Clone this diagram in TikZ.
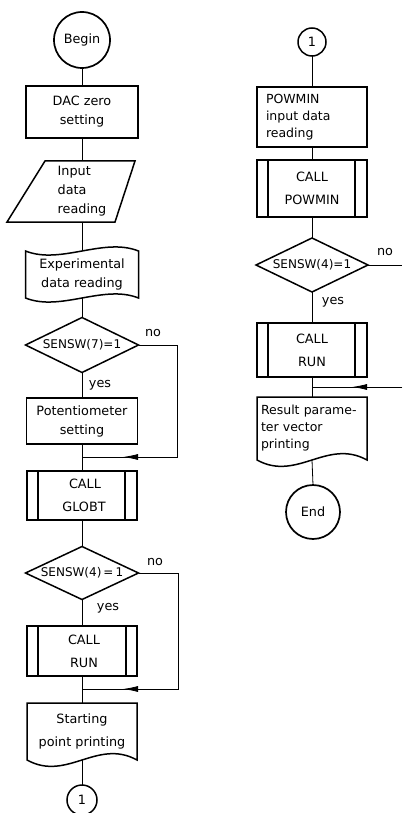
\documentclass[tikz,border=0pt]{standalone}
\usepackage{fontspec}
\setmainfont{DejaVu Sans}
\usetikzlibrary{arrows.meta}
\begin{document}
\begin{tikzpicture}[x=1pt,y=-1pt,
  every node/.style={inner sep=0pt, outer sep=0pt},
  fa/.style={font=\fontsize{12.8pt}{19pt}\selectfont},
  fb/.style={font=\fontsize{12.8pt}{23pt}\selectfont},
  fc/.style={font=\fontsize{12.5pt}{17pt}\selectfont},
  fd/.style={font=\fontsize{12pt}{19pt}\selectfont},
  shp/.style={line width=1.5pt, line join=miter},
  conn/.style={line width=0.8pt},
  term/.style={draw, circle, line width=1.7pt, fa},
  procbox/.style={draw, rectangle, line width=1.5pt, align=center, fa},
  txt/.style={rectangle, align=center, fa},
  lbl/.style={fa},
  tipped/.style={conn, -{Latex[length=15pt,width=6pt]}}
]
\useasboundingbox (0,0) rectangle (402,813);

% ---------- left column ----------
\node[term, minimum size=56pt] (begin) at (82,40) {Begin};
\node[procbox, minimum width=112pt, minimum height=52pt] (dac) at (82,112) {DAC zero\\setting};
\node[txt, align=left, minimum width=108pt, minimum height=61pt] (inp) at (82,191.5) {Input\\data\\reading};
\draw[shp] (45,161) -- (135,161) -- (115,222) -- (7,222) -- cycle;
\node[txt, minimum width=113pt, minimum height=47pt] (exp) at (82,274.5) {Experimental\\data reading};
\draw[shp] (exp.north west) .. controls +(35,14) and +(-35,-14) .. (exp.north east)
  -- (exp.south east) .. controls +(-35,-14) and +(35,14) .. (exp.south west) -- cycle;
\node[txt, fd, minimum width=113pt, minimum height=55pt] (d1) at (82,345) {SENSW(7)=1};
\draw[shp] (d1.north) -- (d1.east) -- (d1.south) -- (d1.west) -- cycle;
\node[lbl] (no1) at (153,333) {no};
\node[lbl] (yes1) at (100,385) {yes};
\node[procbox, minimum width=111pt, minimum height=46pt] (pot) at (82,421) {Potentiometer\\setting};
\node[procbox, fb, minimum width=110pt, minimum height=49pt] (globt) at (82,495.5) {\hspace*{6pt}CALL\\\hspace*{4pt}GLOBT};
\draw[shp] ([xshift=11pt]globt.north west) -- ([xshift=11pt]globt.south west);
\draw[shp] ([xshift=-12pt]globt.north east) -- ([xshift=-12pt]globt.south east);
\node[txt, fd, minimum width=113pt, minimum height=53pt] (d2) at (82,573) {SENSW(4)\,=\,1};
\draw[shp] (d2.north) -- (d2.east) -- (d2.south) -- (d2.west) -- cycle;
\node[lbl] (no2) at (155,562) {no};
\node[lbl] (yes2) at (108,608) {yes};
\node[procbox, fb, minimum width=110pt, minimum height=50pt] (run1) at (82,651) {\hspace*{4pt}CALL\\\hspace*{4pt}RUN};
\draw[shp] ([xshift=11pt]run1.north west) -- ([xshift=11pt]run1.south west);
\draw[shp] ([xshift=-11pt]run1.north east) -- ([xshift=-11pt]run1.south east);
\node[txt, fb, minimum width=110pt, minimum height=57pt] (sp) at (82,731.5) {Starting\\point printing};
\draw[shp] (sp.south west) -- (sp.north west) -- (sp.north east) -- (sp.south east)
  .. controls +(-40,-22) and +(40,22) .. (sp.south west) -- cycle;
\node[term, minimum size=30pt, line width=1.5pt] (c1) at (82,800) {1};

\coordinate (j1) at (82,457);
\coordinate (m1) at (123,457);
\coordinate (k1a) at (177,345);
\coordinate (k1b) at (177,457);
\coordinate (j2) at (82,689);
\coordinate (m2) at (123,689);
\coordinate (k2a) at (178,573);
\coordinate (k2b) at (178,689);

\draw[conn] (begin.south) -- (dac.north);
\draw[conn] (dac.south) -- (inp.north);
\draw[conn] (inp.south) -- (exp.north);
\draw[conn] (exp.south) -- (d1.north);
\draw[conn] (d1.south) -- (pot.north);
\draw[conn] (pot.south) -- (globt.north);
\draw[conn] (d1.east) -- (k1a) -- (k1b) -- (j1);
\draw[tipped] (k1b) -- (m1);
\draw[conn] (globt.south) -- (d2.north);
\draw[conn] (d2.south) -- (run1.north);
\draw[conn] (run1.south) -- (sp.north);
\draw[conn] (d2.east) -- (k2a) -- (k2b) -- (j2);
\draw[tipped] (k2b) -- (m2);
\draw[conn] (sp.south) -- (c1.north);

% ---------- right column ----------
\node[term, minimum size=28pt, line width=1.5pt] (c2) at (312,42) {1};
\node[procbox, fc, align=left, text width=92pt, minimum width=110pt, minimum height=60pt] (pow) at (312,117) {POWMIN\\input data\\reading};
\node[procbox, fb, minimum width=110pt, minimum height=57pt] (cpow) at (312,188.5) {CALL\\POWMIN};
\draw[shp] ([xshift=11pt]cpow.north west) -- ([xshift=11pt]cpow.south west);
\draw[shp] ([xshift=-12pt]cpow.north east) -- ([xshift=-12pt]cpow.south east);
\node[txt, fd, minimum width=112pt, minimum height=54pt] (d3) at (312,265) {SENSW(4)=1};
\draw[shp] (d3.north) -- (d3.east) -- (d3.south) -- (d3.west) -- cycle;
\node[lbl] (no3) at (385,252) {no};
\node[lbl] (yes3) at (333,302) {yes};
\node[procbox, fb, minimum width=110pt, minimum height=54pt] (run2) at (312,350) {CALL\\RUN};
\draw[shp] ([xshift=11pt]run2.north west) -- ([xshift=11pt]run2.south west);
\draw[shp] ([xshift=-12pt]run2.north east) -- ([xshift=-12pt]run2.south east);
\node[txt, fc, align=left, text width=102pt, minimum width=110pt, minimum height=63pt] (res) at (312,428.5) {Result parame-\\ter vector\\printing};
\draw[shp] (res.south west) -- (res.north west) -- (res.north east) -- (res.south east)
  .. controls +(-40,-22) and +(40,22) .. (res.south west) -- cycle;
\node[term, minimum size=54pt] (end) at (313,512) {End};

\coordinate (x3) at (402,265);
\coordinate (e3) at (402,387);
\coordinate (m3) at (352,387);
\coordinate (j3) at (312,387);

\draw[conn] (c2.south) -- (pow.north);
\draw[conn] (pow.south) -- (cpow.north);
\draw[conn] (cpow.south) -- (d3.north);
\draw[conn] (d3.east) -- (x3);
\draw[conn] (d3.south) -- (run2.north);
\draw[conn] (run2.south) -- (res.north);
\draw[conn] (e3) -- (j3);
\draw[tipped] (e3) -- (m3);
\draw[conn] (res.south) -- (end.north);
\end{tikzpicture}
\end{document}
